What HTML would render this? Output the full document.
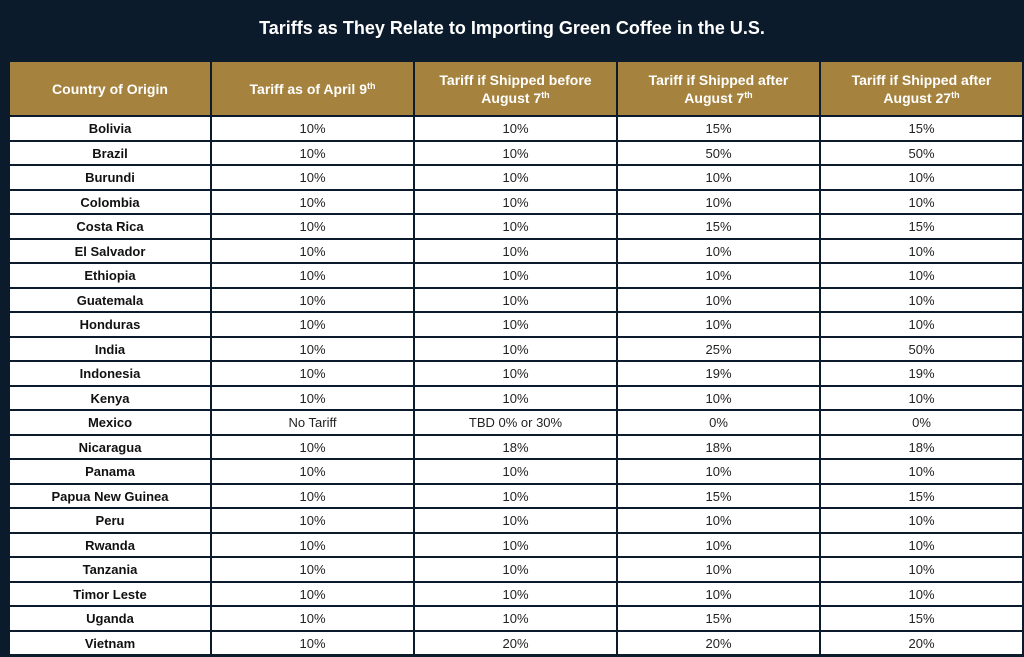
<!DOCTYPE html>
<html><head><style>
body{margin:0;width:1024px;height:657px;background:#0c1b2b;overflow:hidden;font-family:"Liberation Sans",sans-serif;}
.t{position:absolute;top:18px;left:0;width:1024px;text-align:center;color:#fff;font-size:18px;font-weight:bold;}
.c{position:absolute;background:#fff;display:flex;align-items:center;justify-content:center;font-size:13px;color:#222;text-align:center;box-sizing:border-box;}
.h{background:#a5823d;color:#fff;font-weight:bold;font-size:14px;line-height:18px;}
.b{font-weight:bold;color:#111;}
sup{font-size:9px;vertical-align:5px;line-height:0}
</style></head><body>
<div class="t">Tariffs as They Relate to Importing Green Coffee in the U.S.</div>
<div id="g"></div>
<script>
var xs=[10,212,415,618,821,1024];
var hd=["Country of Origin","Tariff as of April 9<sup>th</sup>","Tariff if Shipped before<br>August 7<sup>th</sup>","Tariff if Shipped after<br>August 7<sup>th</sup>","Tariff if Shipped after<br>August 27<sup>th</sup>"];
var rows=[["Bolivia","10%","10%","15%","15%"],["Brazil","10%","10%","50%","50%"],["Burundi","10%","10%","10%","10%"],["Colombia","10%","10%","10%","10%"],["Costa Rica","10%","10%","15%","15%"],["El Salvador","10%","10%","10%","10%"],["Ethiopia","10%","10%","10%","10%"],["Guatemala","10%","10%","10%","10%"],["Honduras","10%","10%","10%","10%"],["India","10%","10%","25%","50%"],["Indonesia","10%","10%","19%","19%"],["Kenya","10%","10%","10%","10%"],["Mexico","No Tariff","TBD 0% or 30%","0%","0%"],["Nicaragua","10%","18%","18%","18%"],["Panama","10%","10%","10%","10%"],["Papua New Guinea","10%","10%","15%","15%"],["Peru","10%","10%","10%","10%"],["Rwanda","10%","10%","10%","10%"],["Tanzania","10%","10%","10%","10%"],["Timor Leste","10%","10%","10%","10%"],["Uganda","10%","10%","15%","15%"],["Vietnam","10%","20%","20%","20%"]];
var h="";
for(var j=0;j<5;j++){h+='<div class="c h" style="left:'+xs[j]+'px;top:62px;width:'+(xs[j+1]-xs[j]-2)+'px;height:53px"><span>'+hd[j]+'</span></div>';}
var y0=117,rh=24.5;
for(var i=0;i<rows.length;i++){var t=Math.round(y0+i*rh),b=Math.round(y0+(i+1)*rh)-2;
for(var j=0;j<5;j++){h+='<div class="c'+(j==0?' b':'')+'" style="left:'+xs[j]+'px;top:'+t+'px;width:'+(xs[j+1]-xs[j]-2)+'px;height:'+(b-t)+'px"><span>'+rows[i][j]+'</span></div>';}}
document.getElementById("g").innerHTML=h;
</script>
</body></html>
